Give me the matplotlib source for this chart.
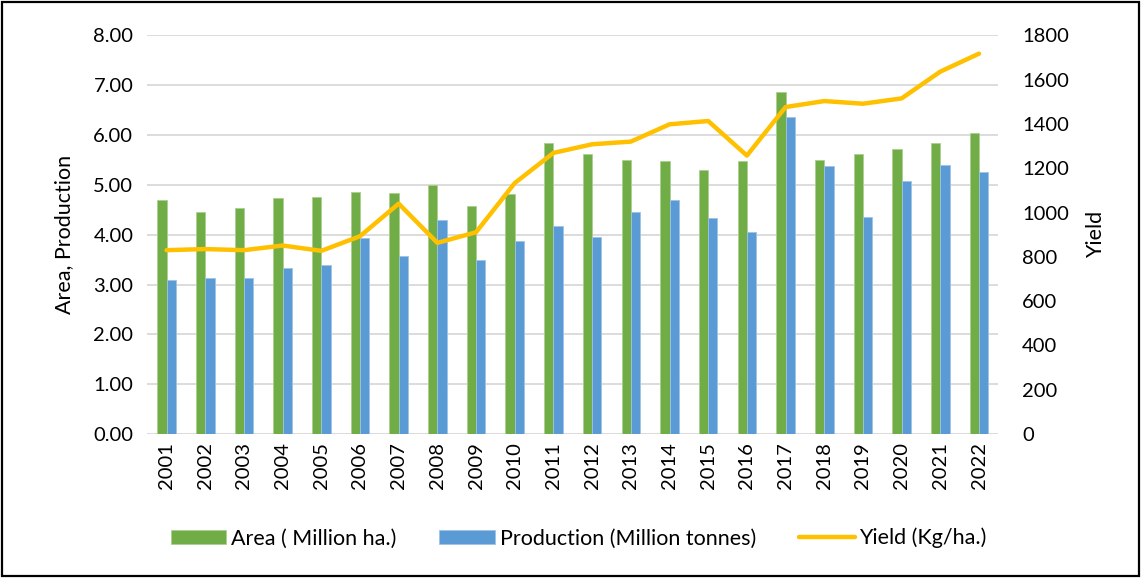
import numpy as np
import matplotlib.pyplot as plt
from matplotlib.patches import Rectangle
from matplotlib.ticker import FormatStrFormatter

plt.rcParams['font.family'] = ['Lato', 'DejaVu Sans']

years = [str(y) for y in range(2001, 2023)]
area = [4.70, 4.46, 4.54, 4.73, 4.76, 4.86, 4.84, 5.00, 4.57, 4.81, 5.83,
        5.61, 5.50, 5.48, 5.29, 5.48, 6.87, 5.50, 5.61, 5.72, 5.83, 6.04]
production = [3.10, 3.13, 3.13, 3.34, 3.39, 3.93, 3.58, 4.30, 3.50, 3.87, 4.17,
              3.95, 4.46, 4.70, 4.33, 4.06, 6.36, 5.37, 4.35, 5.08, 5.40, 5.26]
yield_kg = [830, 835, 830, 851, 827, 893, 1040, 863, 911, 1133, 1269,
            1308, 1320, 1398, 1413, 1257, 1476, 1503, 1491, 1515, 1636, 1717]

GREEN = '#70AD47'
BLUE = '#5B9BD5'
GOLD = '#FFC000'

fig = plt.figure(figsize=(11.41, 5.78), dpi=100)
ax = fig.add_axes([0.129, 0.249, 0.746, 0.690])
ax2 = ax.twinx()

x = np.arange(len(years))
w = 0.24
b1 = ax.bar(x - w / 2, area, w, color=GREEN, edgecolor='#a9d08e', linewidth=0.6, zorder=2)
b2 = ax.bar(x + w / 2, production, w, color=BLUE, edgecolor='#9dc3e6', linewidth=0.6, zorder=2)
ln, = ax2.plot(x, yield_kg, color=GOLD, linewidth=3.2, solid_capstyle='round',
               solid_joinstyle='round')

ax.set_xlim(-0.5, len(years) - 0.5)
ax.set_ylim(0, 8)
ax.set_yticks(np.arange(0, 8.01, 1))
ax.yaxis.set_major_formatter(FormatStrFormatter('%.2f'))
ax2.set_ylim(0, 1800)
ax2.set_yticks(np.arange(0, 1801, 200))

ax.grid(axis='y', color='#d9d9d9', linewidth=1.3, zorder=0)
ax.set_axisbelow(True)
for a in (ax, ax2):
    for s in a.spines.values():
        s.set_visible(False)
    a.tick_params(length=0, labelsize=14.5, colors='black')

ax.set_xticks(x)
ax.set_xticklabels(years, rotation=90)
ax.tick_params(axis='x', pad=6)
ax.tick_params(axis='y', pad=10)
ax2.tick_params(axis='y', pad=17)

ax.set_ylabel('Area, Production', fontsize=15.5, labelpad=14)
ax2.set_ylabel('Yield', fontsize=15.5, labelpad=12)

fig.legend([b1, b2, ln], ['Area ( Million ha.)', 'Production (Million tonnes)', 'Yield (Kg/ha.)'],
           loc='center', bbox_to_anchor=(0.507, 0.069), ncol=3, frameon=False,
           fontsize=15.5, handlelength=2.6, handleheight=0.65, handletextpad=0.2,
           columnspacing=2.0)

fig.add_artist(Rectangle((0.002, 0.003), 0.996, 0.994, transform=fig.transFigure,
                         fill=False, edgecolor='black', linewidth=1.6))

fig.savefig('out.png', dpi=100)
